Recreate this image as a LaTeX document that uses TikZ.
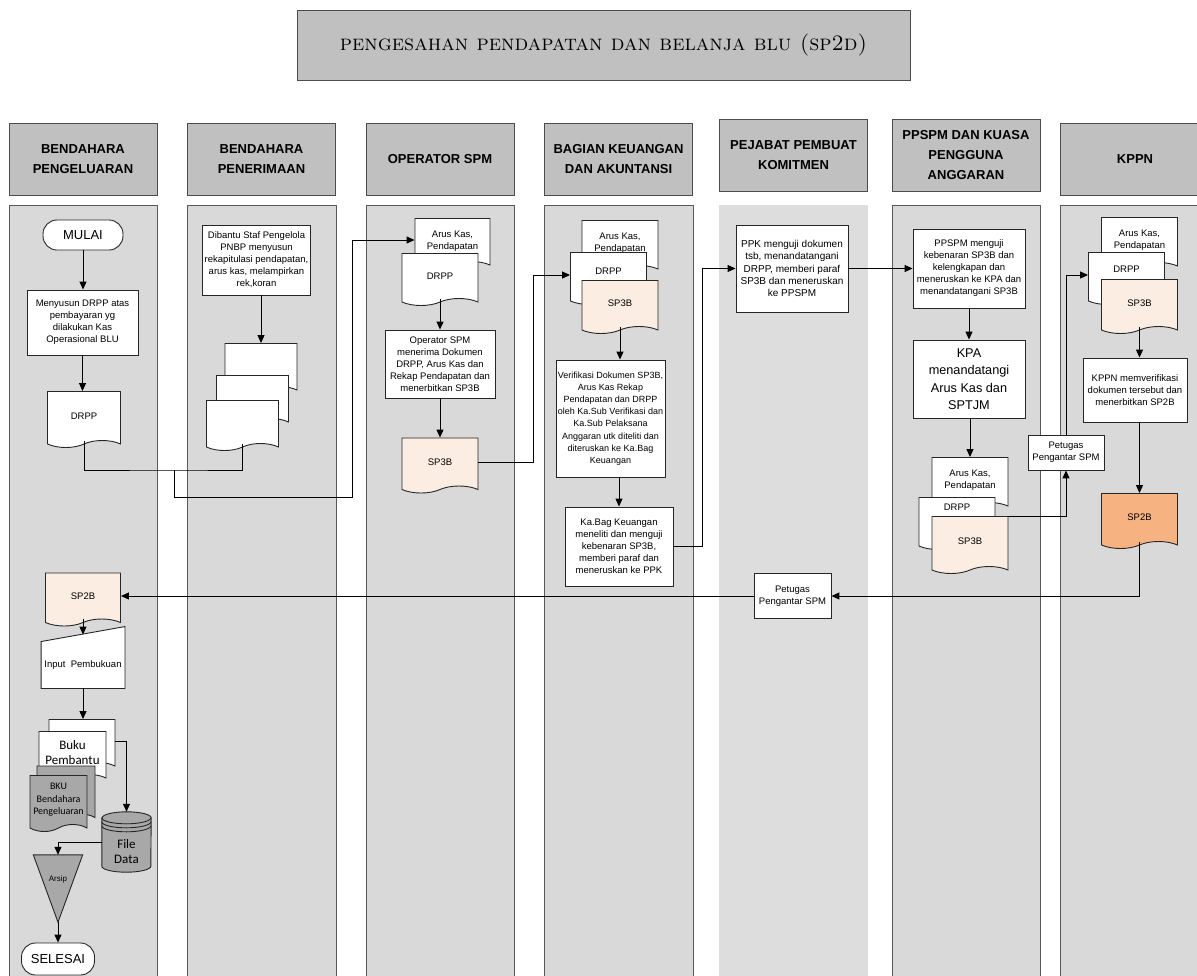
\documentclass[tikz,border=0pt]{standalone}
\usepackage{fontspec}
\setsansfont{Liberation Sans}
\newfontfamily\calibri{Carlito}
\usetikzlibrary{shapes.symbols, arrows.meta, positioning, calc}

\definecolor{lanegray}{RGB}{217,217,217}
\definecolor{kompgray}{RGB}{221,221,221}
\definecolor{headgray}{RGB}{192,192,192}
\definecolor{docpeach}{RGB}{252,237,227}
\definecolor{docorange}{RGB}{246,178,128}
\definecolor{darkfill}{RGB}{168,168,168}

\pgfdeclarelayer{lanes}
\pgfsetlayers{lanes,main}

\newcommand{\flowfont}{\sffamily\fontsize{9.5}{12}\selectfont}

\begin{document}
\begin{tikzpicture}[x=1pt, y=-1pt,
  lane/.style={fill=lanegray, draw=black!65, line width=1pt},
  head/.style={fill=headgray, draw=black!70, line width=1pt, minimum width=148pt, minimum height=72pt, align=center, font=\sffamily\bfseries\fontsize{13}{20}\selectfont},
  proc/.style={draw=black!85, fill=white, line width=0.9pt, align=center, inner xsep=2pt, inner ysep=1.5pt, font=\flowfont},
  doc/.style={tape, tape bend top=none, tape bend bottom=in and out, tape bend height=7pt, draw=black!85, fill=white, line width=0.9pt, minimum width=76pt, minimum height=52pt, inner sep=0pt, align=center, font=\flowfont},
  doctext/.style={align=center, inner sep=0pt, font=\flowfont},
  term/.style={draw=black!85, fill=white, line width=0.9pt, rounded corners=14pt, font=\sffamily\fontsize{13}{15}\selectfont},
  flow/.style={draw=black, line width=1pt, -{Triangle[length=8pt,width=7pt]}},
  link/.style={draw=black, line width=1pt},
]
\useasboundingbox (0,0) rectangle (1197,975);

% swimlanes
\begin{pgfonlayer}{lanes}
  \draw[lane] (9,205) rectangle (157,990);
  \draw[lane] (187,205) rectangle (336,990);
  \draw[lane] (366,205) rectangle (514,990);
  \draw[lane] (544,205) rectangle (693,990);
  \fill[kompgray] (719,205) rectangle (868,990);
  \draw[lane] (892,205) rectangle (1040,990);
  \draw[lane] (1060,205) rectangle (1215,990);
\end{pgfonlayer}

% title and lane headers
\node[draw=black!70, fill=headgray, line width=1pt, minimum width=613pt, minimum height=70pt, font=\fontsize{22}{24}\selectfont] (judul) at (603.5,45) {\textsc{pengesahan pendapatan dan belanja blu (sp2d)}};
\node[head] (h1) at (83,159) {BENDAHARA\\PENGELUARAN};
\node[head] (h2) at (261.5,159) {BENDAHARA\\PENERIMAAN};
\node[head] (h3) at (440,159) {OPERATOR SPM};
\node[head] (h4) at (618.5,159) {BAGIAN KEUANGAN\\DAN AKUNTANSI};
\node[head] (h5) at (793.5,155.5) {PEJABAT PEMBUAT\\KOMITMEN};
\node[head] (h6) at (966,155.5) {PPSPM DAN KUASA\\PENGGUNA\\ANGGARAN};
\node[head, minimum width=150pt] (h7) at (1135,159) {KPPN};

% bendahara pengeluaran
\node[term, minimum width=80pt, minimum height=30pt] (mulai) at (83,235) {MULAI};
\node[proc, minimum width=111pt, minimum height=65pt] (menyusun) at (82.5,322.5) {Menyusun DRPP atas\\pembayaran yg\\dilakukan Kas\\Operasional BLU};
\node[doc, minimum width=73pt, minimum height=56pt] (drpp1) at (84,416) {DRPP};

% bendahara penerimaan
\node[proc, minimum width=103pt, minimum height=70pt] (dibantu) at (256.5,260) {Dibantu Staf Pengelola\\PNBP menyusun\\rekapitulasi pendapatan,\\arus kas, melampirkan\\rek,koran};
\node[doc, minimum width=72pt, minimum height=50pt] (rekap1) at (261,365) {};
\node[doc, minimum width=72pt, minimum height=50pt] (rekap2) at (252.5,397) {};
\node[doc, minimum width=72pt, minimum height=50pt] (rekap3) at (242.5,422) {};

% operator spm
\node[doc, minimum width=75pt, minimum height=50pt] (kas3) at (452.5,240) {};
\node[doctext, below=13pt of kas3.north] (kas3txt) {Arus Kas,\\Pendapatan};
\node[doc] (drpp3) at (440,276) {DRPP};
\node[proc, minimum width=110pt, minimum height=68pt] (terima) at (440,364) {Operator SPM\\menerima Dokumen\\DRPP, Arus Kas dan\\Rekap Pendapatan dan\\menerbitkan SP3B};
\node[doc, fill=docpeach, minimum height=55pt] (sp3b3) at (440,462) {SP3B};

% bagian keuangan
\node[doc] (kas4) at (620,243) {};
\node[doctext, below=13pt of kas4.north] (kas4txt) {Arus Kas,\\Pendapatan};
\node[doc] (drpp4) at (608.5,275) {};
\node[doctext, below=16pt of drpp4.north] (drpp4txt) {DRPP};
\node[doc, fill=docpeach, minimum height=53pt] (sp3b4) at (620,303.5) {SP3B};
\node[proc, minimum width=105pt, minimum height=117pt, font=\sffamily\fontsize{9}{12.2}\selectfont] (verifikasi) at (610.5,418.5) {Verifikasi Dokumen SP3B,\\Arus Kas Rekap\\Pendapatan dan DRPP\\oleh Ka.Sub Verifikasi dan\\Ka.Sub Pelaksana\\Anggaran utk diteliti dan\\diteruskan ke Ka.Bag\\Keuangan};
\node[proc, minimum width=108pt, minimum height=79pt] (kabag) at (619,546.5) {Ka.Bag Keuangan\\meneliti dan menguji\\kebenaran SP3B,\\memberi paraf dan\\meneruskan ke PPK};

% pejabat pembuat komitmen
\node[proc, minimum width=112pt, minimum height=87pt, font=\sffamily\fontsize{10}{12.3}\selectfont] (ppk) at (792,268.5) {PPK menguji dokumen\\tsb, menandatangani\\DRPP, memberi paraf\\SP3B dan meneruskan\\ke PPSPM};
\node[proc, minimum width=77pt, minimum height=45pt] (antar1) at (792.5,596) {Petugas\\Pengantar SPM};

% ppspm dan kpa
\node[proc, minimum width=112pt, minimum height=79pt] (ppspm) at (969,268.5) {PPSPM menguji\\kebenaran SP3B dan\\kelengkapan dan\\meneruskan ke KPA dan\\menandatangani SP3B};
\node[proc, minimum width=112pt, minimum height=78pt, font=\sffamily\fontsize{12.7}{17.5}\selectfont] (kpa) at (969,379) {KPA\\menandatangi\\Arus Kas dan\\SPTJM};
\node[doc] (kas6) at (970,480) {};
\node[doctext, below=13pt of kas6.north] (kas6txt) {Arus Kas,\\Pendapatan};
\node[doc] (drpp6) at (957,520) {};
\node[doctext, below=7pt of drpp6.north] (drpp6txt) {DRPP};
\node[doc, fill=docpeach, minimum height=57pt] (sp3b6) at (970,541.5) {SP3B};
\node[proc, minimum width=76pt, minimum height=35pt] (antar2) at (1066,452.5) {Petugas\\Pengantar SPM};

% kppn
\node[doc] (kas7) at (1139.5,240) {};
\node[doctext, below=13pt of kas7.north] (kas7txt) {Arus Kas,\\Pendapatan};
\node[doc] (drpp7) at (1126.5,275) {};
\node[doctext, below=14pt of drpp7.north] (drpp7txt) {DRPP};
\node[doc, fill=docpeach, minimum height=54pt] (sp3b7) at (1139.5,303) {SP3B};
\node[proc, minimum width=104pt, minimum height=64pt] (kppn) at (1135,390) {KPPN memverifikasi\\dokumen tersebut dan\\menerbitkan SP2B};
\node[doc, fill=docorange, minimum height=55pt] (sp2b7) at (1139.5,517.5) {SP2B};

% pembukuan dan arsip
\node[doc, fill=docpeach, minimum width=75pt, minimum height=53pt] (sp2b1) at (83,596) {SP2B};
\node[proc, draw=none, fill=none, minimum width=83pt, minimum height=46pt] (pembukuan) at (83,665) {Input\ \ Pembukuan};
\node[doc, minimum width=66pt, minimum height=50pt] (bukub) at (82,741) {};
\node[doc, minimum width=67pt, minimum height=50pt, font=\calibri\fontsize{13}{15}\selectfont] (bukuf) at (72.5,753) {Buku\\Pembantu};
\node[doc, fill=darkfill, minimum width=58pt, minimum height=55pt] (bkub) at (66,790) {};
\node[doc, fill=darkfill, minimum width=57pt, minimum height=56pt, font=\calibri\fontsize{10}{12.5}\selectfont] (bkuf) at (58.5,800) {BKU\\Bendahara\\Pengeluaran};
\node[minimum width=49pt, minimum height=60pt, inner sep=0pt] (filedata) at (126.5,842) {};
\node[font=\calibri\fontsize{13}{15}\selectfont, align=center, inner sep=0pt] (filedatatxt) at ([yshift=-10pt]filedata.center) {File\\Data};
\node[minimum width=49pt, minimum height=67pt, inner sep=0pt] (arsip) at (58,888.5) {};
\node[font=\sffamily\fontsize{8}{9}\selectfont, inner sep=0pt] (arsiptxt) at ([yshift=9pt]arsip.center) {Arsip};
\node[term, minimum width=73pt, minimum height=32pt] (selesai) at (58,959) {SELESAI};

% outlines of the special symbols, kept under their text
\begin{pgfonlayer}{lanes}
  \filldraw[fill=white, draw=black!85, line width=0.9pt] (pembukuan.south west) -- (pembukuan.north west) -- ([yshift=15pt]pembukuan.north east) -- (pembukuan.south east) -- cycle;
  \filldraw[fill=darkfill, draw=black!85, line width=0.9pt] ([yshift=-6pt]filedata.north west) -- ([yshift=6pt]filedata.south west)
    arc[start angle=180, end angle=360, x radius=24.5pt, y radius=6pt] -- ([yshift=-6pt]filedata.north east)
    arc[start angle=0, end angle=180, x radius=24.5pt, y radius=6pt] -- cycle;
  \foreach \d in {6,10,14}
    \draw[black!85, line width=0.9pt] ([yshift=-\d pt]filedata.north west) arc[start angle=180, end angle=360, x radius=24.5pt, y radius=6pt];
  \filldraw[fill=darkfill, draw=black!85, line width=0.9pt] (arsip.north west) -- (arsip.north east) -- (arsip.south) -- cycle;
\end{pgfonlayer}

% connectors
\coordinate (gabung) at (174,470);
\draw[flow] (mulai.south) -- (mulai.south |- menyusun.north);
\draw[flow] (menyusun.south) -- (menyusun.south |- drpp1.north);
\draw[link] (drpp1.south) |- (gabung) -| (rekap3.south);
\draw[flow] (gabung) |- ++(178,27) |- (kas3.west);
\draw[flow] (dibantu.south -| rekap1.north) -- (rekap1.north);
\draw[flow] (drpp3.south) -- (drpp3.south |- terima.north);
\draw[flow] (terima.south -| sp3b3.north) -- (sp3b3.north);
\draw[flow] (sp3b3.east) -- ++(55,0) |- (drpp4.west);
\draw[flow] (sp3b4.south) -- (sp3b4.south |- verifikasi.north);
\draw[flow] (verifikasi.south -| kabag.north) -- (kabag.north);
\draw[flow] (kabag.east) -- ++(29,0) |- (ppk.west);
\draw[flow] (ppk.east) -- (ppspm.west);
\draw[flow] (ppspm.south) -- (kpa.north);
\draw[flow] (kpa.south -| kas6.north) -- (kas6.north);
\draw[flow] (sp3b6.north east) -| (antar2.south);
\draw[flow] (antar2.north) |- (drpp7.west);
\draw[flow] (sp3b7.south) -- (sp3b7.south |- kppn.north);
\draw[flow] (kppn.south -| sp2b7.north) -- (sp2b7.north);
\draw[flow] (sp2b7.south) |- (antar1.east);
\draw[flow] (antar1.west) -- (sp2b1.east);
\draw[flow] (sp2b1.south) -- ([yshift=7pt]pembukuan.north);
\draw[flow] (pembukuan.south) -- (pembukuan.south |- bukub.north);
\draw[flow] (bukub.east) -| (filedata.north);
\draw[flow] (filedata.west) -| (arsip.north);
\draw[flow] (arsip.south) -- (selesai.north);
\end{tikzpicture}
\end{document}
